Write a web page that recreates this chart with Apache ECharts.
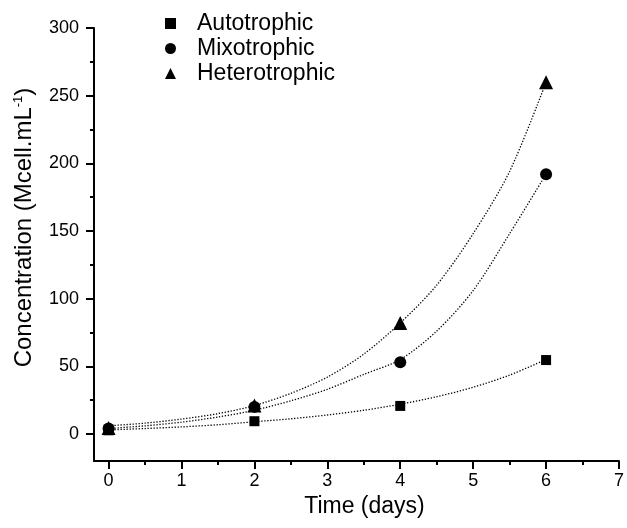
<!DOCTYPE html>
<html>
<head>
<meta charset="utf-8">
<script src="https://cdn.jsdelivr.net/npm/echarts@6/dist/echarts.min.js"></script>
<style>
  html, body { margin: 0; padding: 0; background: #fff; }
  #growth-chart { width: 627px; height: 528px; }
</style>
</head>
<body>
<div id="growth-chart"></div>
<script>
const days = [0, 2, 4, 6];
const autotrophic = [2.7, 9.4, 20.7, 54.6];
const mixotrophic = [4, 20, 53, 192];
const heterotrophic = [4.3, 21, 82, 260];

// exponential fit curves, every half day
const fitDays = [0, 0.5, 1, 1.5, 2, 2.5, 3, 3.5, 4, 4.5, 5, 5.5, 6];
const fitAutotrophic = [3, 4, 5.2, 6.8, 9, 11.2, 14, 17.5, 22, 27.5, 34.5, 43.5, 55];
const fitMixotrophic = [4, 6, 8.7, 12.5, 17.5, 24.5, 33, 44, 55, 76, 106, 148, 192];
const fitHeterotrophic = [6, 8, 11, 15, 21, 30, 42, 59, 82, 110, 148, 194, 260];

const xTicks = [0, 1, 2, 3, 4, 5, 6, 7];
const xMinorTicks = [0.5, 1.5, 2.5, 3.5, 4.5, 5.5, 6.5];
const yTicks = [0, 50, 100, 150, 200, 250, 300];
const yMinorTicks = [25, 75, 125, 175, 225, 275];

const font = 'Liberation Sans, Arial, sans-serif';
const pairs = (xs, ys) => xs.map((x, i) => [x, ys[i]]);

const chart = echarts.init(document.getElementById('growth-chart'));

const fitLine = (name, values) => ({
  name: name,
  type: 'line',
  data: pairs(fitDays, values),
  smooth: 0.3,
  showSymbol: false,
  silent: true,
  z: 1,
  lineStyle: { color: '#000', width: 1.3, type: [1.3, 1.7] }
});

const points = (name, symbol, size, values) => ({
  name: name,
  type: 'scatter',
  data: pairs(days, values),
  symbol: symbol,
  symbolSize: size,
  z: 3,
  itemStyle: { color: '#000', opacity: 1 }
});

const tickStyle = { color: '#000', width: 2 };

chart.setOption({
  animation: false,
  backgroundColor: '#fff',
  textStyle: { fontFamily: font, color: '#000' },
  grid: { left: 94, right: 6, top: 28, bottom: 67 },
  legend: {
    orient: 'vertical',
    left: 160,
    top: 7,
    itemWidth: 11,
    itemHeight: 11,
    itemGap: 2,
    selectedMode: false,
    data: ['Autotrophic', 'Mixotrophic', 'Heterotrophic'],
    textStyle: { fontFamily: font, fontSize: 23, color: '#000', padding: [0, 0, 0, 16] }
  },
  xAxis: [
    {
      type: 'value',
      min: -0.2,
      max: 7,
      name: 'Time (days)',
      nameLocation: 'middle',
      nameGap: 33,
      nameTextStyle: { fontFamily: font, fontSize: 23, color: '#000', padding: [0, 0, 0, 16] },
      splitLine: { show: false },
      axisLine: { show: true, onZero: false, lineStyle: { color: '#000', width: 2 } },
      axisTick: { show: true, customValues: xTicks, length: 8, lineStyle: tickStyle },
      axisLabel: { customValues: xTicks, margin: 11, fontFamily: font, fontSize: 18, color: '#000' }
    },
    {
      type: 'value',
      min: -0.2,
      max: 7,
      position: 'bottom',
      splitLine: { show: false },
      axisLine: { show: false, onZero: false },
      axisTick: { show: true, customValues: xMinorTicks, length: 4, lineStyle: tickStyle },
      axisLabel: { show: false }
    }
  ],
  yAxis: [
    {
      type: 'value',
      min: -20,
      max: 300,
      name: '{t|Concentration (Mcell.mL}{s|-1}{t|)}',
      nameLocation: 'middle',
      nameGap: 58,
      nameTextStyle: {
        padding: [0, 0, 0, 34],
        rich: {
          t: { fontFamily: font, fontSize: 24, color: '#000' },
          s: { fontFamily: font, fontSize: 13, color: '#000', verticalAlign: 'top' }
        }
      },
      splitLine: { show: false },
      axisLine: { show: true, onZero: false, lineStyle: { color: '#000', width: 2 } },
      axisTick: { show: true, customValues: yTicks, length: 8, lineStyle: tickStyle },
      axisLabel: { customValues: yTicks, margin: 15, fontFamily: font, fontSize: 18, color: '#000' }
    },
    {
      type: 'value',
      min: -20,
      max: 300,
      position: 'left',
      splitLine: { show: false },
      axisLine: { show: false, onZero: false },
      axisTick: { show: true, customValues: yMinorTicks, length: 4, lineStyle: tickStyle },
      axisLabel: { show: false }
    }
  ],
  series: [
    fitLine('fit-auto', fitAutotrophic),
    fitLine('fit-mixo', fitMixotrophic),
    fitLine('fit-hetero', fitHeterotrophic),
    points('Autotrophic', 'rect', 10, autotrophic),
    points('Mixotrophic', 'circle', 12, mixotrophic),
    points('Heterotrophic', 'triangle', 14, heterotrophic)
  ]
});
</script>
</body>
</html>
